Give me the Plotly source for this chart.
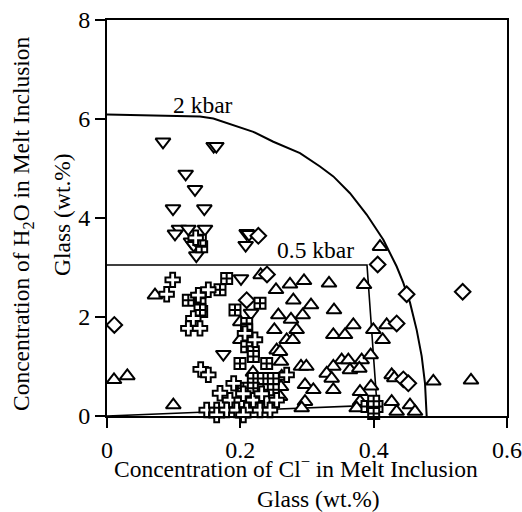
import plotly.graph_objects as go

# ---- data ----
kbar2_cl = [0.0, 0.0495, 0.10, 0.1395, 0.1595, 0.1895, 0.2195, 0.2495, 0.2895, 0.3195, 0.3395,
            0.3645, 0.3895, 0.4145, 0.4345, 0.4445, 0.4545, 0.4645, 0.472, 0.477, 0.4795]
kbar2_h2o = [6.09, 6.08, 6.07, 6.05, 6.01, 5.88, 5.74, 5.54, 5.31, 5.04, 4.84,
             4.50, 4.07, 3.56, 3.02, 2.69, 2.29, 1.74, 1.21, 0.66, 0.0]

kbar05_cl = [0.0, 0.39, 0.405, 0.0]
kbar05_h2o = [3.05, 3.05, 0.22, 0.0]

tri_down_cl = [0.084, 0.160, 0.164, 0.118, 0.132, 0.099, 0.146, 0.108, 0.122, 0.147, 0.102,
               0.126, 0.130, 0.134, 0.2095, 0.213, 0.208, 0.201, 0.1745, 0.216]
tri_down_h2o = [5.54, 5.45, 5.45, 4.89, 4.58, 4.19, 4.19, 3.78, 3.78, 3.78, 3.68,
                3.52, 3.45, 3.24, 3.69, 3.67, 3.45, 2.78, 1.25, 2.08]

diamond_cl = [0.011, 0.227, 0.240, 0.2095, 0.406, 0.4495, 0.5335, 0.4345, 0.4445, 0.452]
diamond_h2o = [1.84, 3.64, 2.86, 2.34, 3.06, 2.46, 2.51, 1.87, 0.74, 0.66]

tri_up_cl = [0.0105, 0.0305, 0.072, 0.0995,
             0.2305, 0.2535, 0.2745, 0.2955, 0.333, 0.3855,
             0.2795, 0.306, 0.3405, 0.257, 0.2935, 0.276,
             0.3695, 0.4195, 0.251, 0.2845, 0.3395, 0.357,
             0.3995, 0.4135, 0.2695, 0.2785, 0.200, 0.200,
             0.4095, 0.2545, 0.261, 0.352, 0.362, 0.382, 0.3955,
             0.291, 0.299, 0.3395, 0.3295, 0.337, 0.3645, 0.3785,
             0.297, 0.3095, 0.3395, 0.427, 0.431, 0.4895, 0.546,
             0.3795, 0.396, 0.3795, 0.427, 0.3745, 0.4345, 0.4545, 0.462,
             0.297, 0.292, 0.2595, 0.261, 0.262, 0.2595, 0.219]
tri_up_h2o = [0.73, 0.81, 2.44, 0.22,
              2.85, 2.55, 2.66, 2.73, 2.68, 2.65,
              2.34, 2.24, 2.14, 2.04, 2.04, 1.95,
              1.84, 1.84, 1.74, 1.74, 1.64, 1.64,
              1.74, 1.54, 1.54, 1.54, 1.54, 1.90,
              3.42, 1.33, 1.10, 1.13, 1.13, 1.13, 1.23,
              1.00, 1.00, 1.00, 0.86, 0.76, 0.93, 0.96,
              0.63, 0.53, 0.53, 0.83, 0.77, 0.70, 0.72,
              0.49, 0.60, 0.29, 0.29, 0.16, 0.09, 0.22, 0.09,
              0.29, 0.16, 0.39, 0.59, 0.80, 1.30, 0.88]

sqcross_cl = [0.122, 0.1395, 0.1695, 0.1795, 0.142, 0.1395, 0.192, 0.2095, 0.2295, 0.2095,
              0.2095, 0.2195, 0.1995, 0.2195, 0.2395, 0.2195, 0.2345, 0.2495, 0.2045, 0.2195,
              0.2345, 0.2495, 0.2295, 0.2445, 0.142, 0.140, 0.39, 0.405, 0.400, 0.400]
sqcross_h2o = [2.34, 2.38, 2.55, 2.78, 2.11, 2.14, 2.14, 1.87, 2.28, 1.74,
               1.40, 1.30, 1.06, 1.20, 1.06, 0.76, 0.76, 0.76, 0.56, 0.56,
               0.53, 0.53, 0.36, 0.22, 3.42, 3.55, 0.19, 0.19, 0.05, 0.30]

cross_cl = [0.0985, 0.0895, 0.137, 0.152, 0.1295, 0.122, 0.1395, 0.1405, 0.152, 0.207,
            0.222, 0.1695, 0.190, 0.1845, 0.202, 0.2195, 0.2395, 0.2545, 0.1495, 0.1645,
            0.1795, 0.1945, 0.2095, 0.2295, 0.2445, 0.1645, 0.2045, 0.2695, 0.133, 0.2045, 0.232]
cross_h2o = [2.75, 2.46, 2.44, 2.55, 1.97, 1.77, 1.77, 0.94, 0.83, 1.67,
             1.54, 0.46, 0.66, 0.32, 0.32, 0.32, 0.32, 0.32, 0.12, 0.12,
             0.12, 0.12, 0.12, 0.12, 0.12, 0.02, 0.02, 0.83, 3.60, 0.45, 0.45]

x_ticks = [0, 0.2, 0.4, 0.6]
x_tick_text = ["0", "0.2", "0.4", "0.6"]
y_ticks = [0, 2, 4, 6, 8]
y_tick_text = ["0", "2", "4", "6", "8"]

FONT = "Liberation Serif"
BLACK = "black"

fig = go.Figure()

fig.add_trace(go.Scatter(x=kbar2_cl, y=kbar2_h2o, mode="lines",
                         line=dict(color=BLACK, width=2),
                         showlegend=False, hoverinfo="skip"))
fig.add_trace(go.Scatter(x=kbar05_cl, y=kbar05_h2o, mode="lines",
                         line=dict(color=BLACK, width=1.6),
                         showlegend=False, hoverinfo="skip"))

def pts(x, y, symbol, size):
    fig.add_trace(go.Scatter(
        x=x, y=y, mode="markers", showlegend=False, cliponaxis=False,
        marker=dict(symbol=symbol, size=size, color="white",
                    line=dict(color=BLACK, width=2))))

pts(tri_up_cl, tri_up_h2o, "triangle-up", 13)
pts(tri_down_cl, tri_down_h2o, "triangle-down", 13)
pts(diamond_cl, diamond_h2o, "diamond", 12)
pts(sqcross_cl, sqcross_h2o, "square-cross", 11)
pts(cross_cl, cross_h2o, "cross", 12)

TF = dict(family=FONT, size=23.5, color=BLACK)
fig.add_annotation(x=0.1435, y=6.28, text="2 kbar", showarrow=False, font=TF)
fig.add_annotation(x=0.312, y=3.35, text="0.5 kbar", showarrow=False, font=TF)

# axis titles as annotations (two offset lines)
fig.add_annotation(xref="paper", yref="paper", x=(296 - 107) / 400, y=-(467 - 416) / 396,
                   text="Concentration of Cl<sup>−</sup> in Melt Inclusion", showarrow=False,
                   font=TF, yanchor="middle")
fig.add_annotation(xref="paper", yref="paper", x=(318 - 107) / 400, y=-(499 - 416) / 396,
                   text="Glass (wt.%)", showarrow=False, font=TF, yanchor="middle")
fig.add_annotation(xref="paper", yref="paper", x=-(107 - 23) / 400, y=(416 - 224) / 396,
                   text="Concentration of H<sub>2</sub>O in Melt Inclusion", showarrow=False,
                   textangle=-90, font=TF, xanchor="center")
fig.add_annotation(xref="paper", yref="paper", x=-(107 - 62) / 400, y=(416 - 215) / 396,
                   text="Glass (wt.%)", showarrow=False,
                   textangle=-90, font=TF, xanchor="center")

fig.update_layout(
    width=522, height=512, autosize=False,
    margin=dict(l=107, r=15, t=20, b=96),
    paper_bgcolor="white", plot_bgcolor="white",
    font=dict(family=FONT, size=24, color=BLACK),
    xaxis=dict(range=[0, 0.6], tickvals=x_ticks, ticktext=x_tick_text, automargin=False,
               showgrid=False, zeroline=False, showline=True, linecolor=BLACK, linewidth=2,
               mirror=True, ticks="outside", ticklen=10, tickwidth=2, tickcolor=BLACK,
               ticklabelstandoff=1, tickfont=dict(family=FONT, size=24)),
    yaxis=dict(range=[0, 8], tickvals=y_ticks, ticktext=y_tick_text, automargin=False,
               showgrid=False, zeroline=False, showline=True, linecolor=BLACK, linewidth=2,
               mirror=True, ticks="outside", ticklen=10, tickwidth=2, tickcolor=BLACK,
               tickfont=dict(family=FONT, size=24)),
)

fig.write_html("out.html",
               config={"responsive": False, "displayModeBar": False},
               post_script="document.body.style.margin='0';document.body.style.overflow='hidden';")
